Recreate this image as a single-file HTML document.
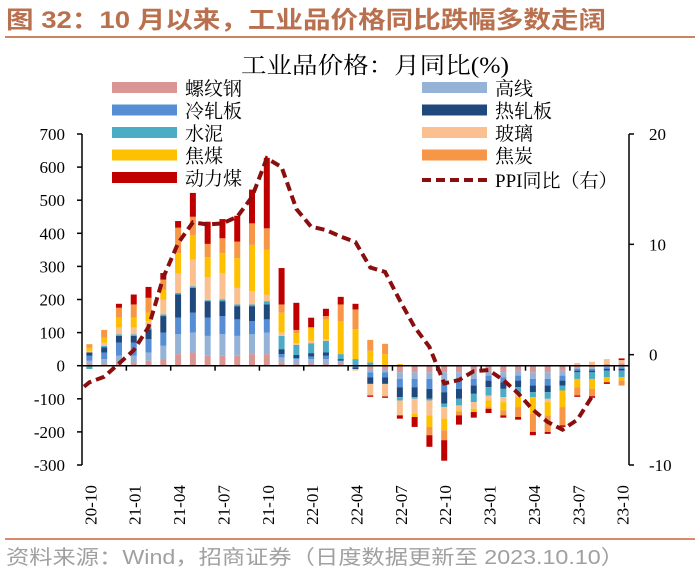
<!DOCTYPE html>
<html><head><meta charset="utf-8"><style>
html,body{margin:0;padding:0;background:#fff;}
svg{display:block;}
</style></head><body>
<svg id="chart" width="700" height="582" xmlns="http://www.w3.org/2000/svg">
<text x="6" y="28" font-family="Liberation Sans,'Noto Sans CJK SC',sans-serif" font-size="24" font-weight="bold" fill="#B9704F" textLength="600" lengthAdjust="spacingAndGlyphs">图 32：10 月以来，工业品价格同比跌幅多数走阔</text>
<rect x="5" y="36" width="690" height="2" fill="#C98466"/>
<text x="375" y="73" text-anchor="middle" font-family="'Liberation Serif','Noto Serif CJK SC',serif" font-size="23" fill="#000" textLength="268" lengthAdjust="spacingAndGlyphs">工业品价格：月同比(%)</text>
<g id="legend"></g>
<g id="bars"></g>
<g id="axes"></g>
<path id="ppi" fill="none" stroke="#8B0E0E" stroke-width="4" stroke-dasharray="9,5"/>
<rect x="5" y="538" width="690" height="2" fill="#D98A6E"/>
<text x="6" y="564" font-family="Liberation Sans,'Noto Sans CJK SC',sans-serif" font-size="20" fill="#a0a0a0" textLength="618" lengthAdjust="spacingAndGlyphs">资料来源：Wind，招商证券（日度数据更新至 2023.10.10）</text>
</svg>
<script>
const categories=["20-10","20-11","20-12","21-01","21-02","21-03","21-04","21-05","21-06","21-07","21-08","21-09","21-10","21-11","21-12","22-01","22-02","22-03","22-04","22-05","22-06","22-07","22-08","22-09","22-10","22-11","22-12","23-01","23-02","23-03","23-04","23-05","23-06","23-07","23-08","23-09","23-10"];
const rebar=[5,5,10,10,15,20,35,40,30,30,30,35,35,10,5,5,5,5,0,-10,-10,-20,-20,-20,-20,-20,-20,-15,-20,-15,-20,-20,-15,-5,-5,5,7];
const wire=[10,15,20,20,25,40,60,60,60,65,60,60,65,15,15,15,15,10,0,-10,-10,-20,-20,-20,-25,-20,-20,-15,-15,-15,-20,-20,-15,-5,-5,-5,-5];
const coldRolled=[15,20,40,40,40,40,50,60,55,55,50,40,40,10,3,8,10,0,-5,-15,-15,-25,-25,-30,-35,-30,-20,-15,-15,-15,-20,-20,-15,-5,-5,-5,-5];
const hotRolled=[10,15,20,20,30,50,70,75,50,45,40,45,45,15,10,10,10,5,-5,-20,-20,-30,-30,-30,-35,-30,-25,-20,-20,-20,-20,-20,-15,-5,-5,-5,-5];
const cement=[-10,5,5,5,5,5,5,5,3,5,5,5,10,40,30,30,35,15,20,10,0,-10,-5,-5,-10,-20,-25,-25,-25,-20,-15,-20,-15,-20,-20,-20,-20];
const glass=[5,10,20,20,20,45,60,80,70,80,50,40,20,10,5,8,5,0,-5,-35,-38,-45,-45,-45,-35,-15,-20,-15,-15,-10,0,-10,0,8,12,15,10];
const cokingCoal=[10,15,30,30,25,30,60,75,60,60,90,140,135,60,30,40,60,100,90,35,35,5,-10,-35,-35,-5,-10,-20,-25,-30,-50,-40,-50,-25,-30,-15,-10];
const coke=[10,23,30,40,45,30,77,55,40,45,50,65,65,25,10,0,10,50,60,33,31,0,0,-25,-30,-10,0,-5,-15,-30,-55,-50,-55,-25,-22,0,-15];
const thermalCoal=[0,0,12,30,33,20,20,72,67,58,78,102,213,110,82,29,22,23,17,-4,-4,-10,-30,-35,-62,-28,-17,-13,-7,-8,-10,-6,-5,-4,-5,-5,5];
const ppi=[-2.5,-2.0,-0.8,0.4,2.5,7.0,10.1,12.0,11.8,11.9,12.5,14.3,17.8,17.0,13.2,11.6,11.3,10.7,10.2,7.9,7.5,4.9,2.5,0.7,-2.6,-2.3,-1.5,-1.4,-2.3,-3.5,-5.0,-6.1,-6.8,-5.9,-3.8];
const seriesNames=["螺纹钢","高线","冷轧板","热轧板","水泥","玻璃","焦煤","焦炭","动力煤"];
const leftTicks=[700,600,500,400,300,200,100,0,-100,-200,-300];
const rightTicks=[20,10,0,-10];
const xTickLabels=["20-10","21-01","21-04","21-07","21-10","22-01","22-04","22-07","22-10","23-01","23-04","23-07","23-10"];

const NS="http://www.w3.org/2000/svg";
const colors=["#DA9694","#95B3D7","#558ED5","#1F497D","#4BACC6","#FAC090","#FFC000","#F79646","#C00000"];
const series=[rebar,wire,coldRolled,hotRolled,cement,glass,cokingCoal,coke,thermalCoal];
const L=82,R=629,T=134,B=465;
const yL=v=>T+(700-v)/1000*(B-T);
const yR=v=>T+(20-v)/30*(B-T);
const bw=(R-L)/categories.length;
const xC=i=>L+(i+0.5)*bw;
function mk(tag,attrs,parent){const e=document.createElementNS(NS,tag);for(const k in attrs)e.setAttribute(k,attrs[k]);parent.appendChild(e);return e;}
const gb=document.getElementById('bars');
categories.forEach((c,i)=>{
  let pos=0,neg=0;
  series.forEach((s,k)=>{
    const v=s[i];if(!v)return;
    let y0,y1;
    if(v>0){y0=yL(pos+v);y1=yL(pos);pos+=v;}else{y0=yL(neg);y1=yL(neg+v);neg+=v;}
    const r=mk('rect',{x:(xC(i)-3).toFixed(2),y:y0.toFixed(2),width:6,height:(y1-y0).toFixed(2),fill:colors[k]},gb);
    
    
  });
});
const ga=document.getElementById('axes');
const ser="'Liberation Serif',serif";
mk('line',{x1:L,y1:T,x2:L,y2:B,stroke:'#000','stroke-width':1.5},ga);
mk('line',{x1:R,y1:T,x2:R,y2:B,stroke:'#000','stroke-width':1.5},ga);
mk('line',{x1:L,y1:yL(0),x2:R,y2:yL(0),stroke:'#000','stroke-width':1.5},ga);
leftTicks.forEach(v=>{
  mk('line',{x1:L-5,y1:yL(v),x2:L,y2:yL(v),stroke:'#000','stroke-width':1.5},ga);
  const t=mk('text',{x:L-17,y:yL(v)+6,'text-anchor':'end','font-family':ser,'font-size':17},ga);
  t.textContent=v;
  
  
});
rightTicks.forEach(v=>{
  mk('line',{x1:R,y1:yR(v),x2:R+5,y2:yR(v),stroke:'#000','stroke-width':1.5},ga);
  const t=mk('text',{x:R+20,y:yR(v)+6,'font-family':ser,'font-size':17},ga);
  t.textContent=v;
  
  
});
xTickLabels.forEach((lab,j)=>{
  const i=categories.indexOf(lab);
  const xt=L+i*bw;
  if(j>0) mk('line',{x1:xt,y1:yL(0),x2:xt,y2:yL(0)+5,stroke:'#000','stroke-width':1.5},ga);
  const x=xC(i)+1;
  const t=mk('text',{x:x+6,y:505,'text-anchor':'middle','font-family':ser,'font-size':17,transform:`rotate(-90 ${x+6} 505)`},ga);
  t.textContent=lab;
  
  
});
let d='';
ppi.forEach((v,i)=>{d+=(i?'L':'M')+xC(i).toFixed(1)+','+yR(v).toFixed(1);});
document.getElementById('ppi').setAttribute('d','M84,'+yR(-2.9).toFixed(1)+d.replace(/^M/,'L'));
const gl=document.getElementById('legend');
const cjk="'Liberation Serif','Noto Serif CJK SC',serif";
seriesNames.forEach((n,k)=>{
  const col=k%2,row=Math.floor(k/2);
  const x=col?422:112,y=88+row*22.5;
  const r=mk('rect',{x:x,y:y-6,width:65,height:11,fill:colors[k]},gl);
  
  
  const t=mk('text',{x:x+73,y:y+7,'font-family':cjk,'font-size':19},gl);
  t.textContent=n;
  
  
});
mk('line',{x1:422,y1:180,x2:489,y2:180,stroke:'#8B0E0E','stroke-width':4,'stroke-dasharray':'9,5'},gl);
const pt=mk('text',{x:495,y:187,'font-family':cjk,'font-size':19},gl);
pt.textContent='PPI同比（右）';


</script>
</body></html>
